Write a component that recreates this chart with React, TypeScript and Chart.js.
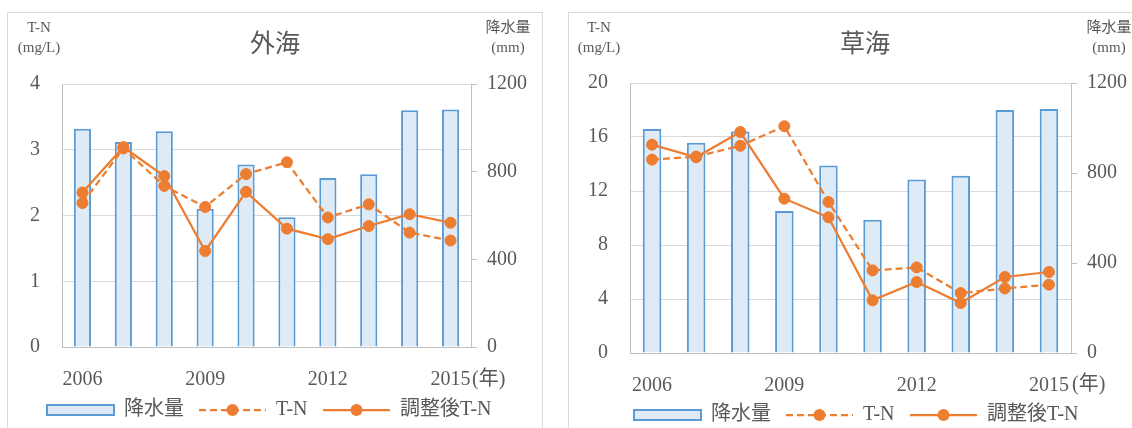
import React, { useEffect, useRef } from "react";
import { Chart, registerables } from "chart.js";

Chart.register(...registerables);

// Years on the category axis, and the ones that carry a visible label
const years = ["2006", "2007", "2008", "2009", "2010", "2011", "2012", "2013", "2014", "2015"];
const labelledYears = ["2006", "2009", "2012", "2015"];

// Annual rainfall (mm)
const rainfall = [996, 935, 984, 631, 833, 592, 771, 788, 1080, 1084];

// 外海: measured and rainfall-adjusted total nitrogen (mg/L)
const sotoumiTN = [2.19, 3.02, 2.45, 2.13, 2.63, 2.81, 1.97, 2.17, 1.74, 1.62];
const sotoumiAdjTN = [2.35, 3.04, 2.6, 1.46, 2.36, 1.8, 1.64, 1.84, 2.02, 1.89];

// 草海: measured and rainfall-adjusted total nitrogen (mg/L)
const kusaumiTN = [14.33, 14.55, 15.35, 16.8, 11.19, 6.12, 6.34, 4.44, 4.78, 5.06];
const kusaumiAdjTN = [15.43, 14.5, 16.37, 11.43, 10.05, 3.9, 5.26, 3.7, 5.63, 6.0];

// Legend labels
const rainLabel = "降水量";
const tnLabel = "T-N";
const adjLabel = "調整後T-N";

const FONT = '"Liberation Serif", "Times New Roman", "Noto Sans CJK JP", serif';
const TEXT = "#595959";
const GRID = "#d9d9d9";
const AXIS = "#bfbfbf";
const BAR_FILL = "#deebf7";
const BAR_LINE = "#5b9bd5";
const LINE = "#ed7d31";
const DASH = [7, 4];

type Panel = {
  title: string;
  left: number;
  width: number;
  tn: number[];
  adj: number[];
  tnMax: number;
  tnStep: number;
  yWidth: number;
  y1Width: number;
  top: number;
  xHeight: number;
  titleX: number;
  unitLeftX: number;
  unitRightX: number;
  yearX: number;
  yearY: number;
  legendX: number;
  legendY: number;
};

const CANVAS_H = 415;

const panels: Panel[] = [
  {
    title: "外海",
    left: 7,
    width: 534,
    tn: sotoumiTN,
    adj: sotoumiAdjTN,
    tnMax: 4,
    tnStep: 1,
    yWidth: 54,
    y1Width: 71,
    top: 71,
    xHeight: 81,
    titleX: 267,
    unitLeftX: 31,
    unitRightX: 500,
    yearX: 464,
    yearY: 367,
    legendX: 39,
    legendY: 397,
  },
  {
    title: "草海",
    left: 568,
    width: 592,
    tn: kusaumiTN,
    adj: kusaumiAdjTN,
    tnMax: 20,
    tnStep: 4,
    yWidth: 61,
    y1Width: 90,
    top: 70,
    xHeight: 75,
    titleX: 296,
    unitLeftX: 30,
    unitRightX: 540,
    yearX: 503,
    yearY: 372,
    legendX: 65,
    legendY: 402,
  },
];

// Legend layout: symbol width, start offsets of each entry, symbol-to-text gap
const LEGEND_SYMBOL = 67;
const LEGEND_OFFSETS = [0, 152, 276];
const LEGEND_GAP = 10;

// Draws the title, axis unit captions, the year suffix and the legend
function panelText(p: Panel) {
  return {
    id: "panelText",
    afterDraw(chart: any) {
      const ctx: CanvasRenderingContext2D = chart.ctx;
      ctx.save();
      ctx.fillStyle = TEXT;
      ctx.textAlign = "center";
      ctx.textBaseline = "middle";

      ctx.font = `25px ${FONT}`;
      ctx.fillText(p.title, p.titleX, 32);

      ctx.font = `15px ${FONT}`;
      ctx.fillText("T-N", p.unitLeftX, 15);
      ctx.fillText("(mg/L)", p.unitLeftX, 35);
      ctx.fillText("降水量", p.unitRightX, 15);
      ctx.fillText("(mm)", p.unitRightX, 35);

      ctx.font = `20px ${FONT}`;
      ctx.textAlign = "left";
      ctx.fillText("(年)", p.yearX, p.yearY);

      // legend
      const sw = LEGEND_SYMBOL;
      const y = p.legendY;
      const ds = chart.data.datasets;
      const entries = [ds[2], ds[0], ds[1]];
      entries.forEach((d: any, i: number) => {
        const x = p.legendX + LEGEND_OFFSETS[i];
        if (d.type === "bar") {
          ctx.fillStyle = BAR_FILL;
          ctx.fillRect(x, y - 5, sw, 10);
          ctx.strokeStyle = BAR_LINE;
          ctx.lineWidth = 2;
          ctx.strokeRect(x, y - 5, sw, 10);
        } else {
          ctx.strokeStyle = d.borderColor;
          ctx.lineWidth = d.borderWidth;
          ctx.setLineDash(d.borderDash || []);
          ctx.beginPath();
          ctx.moveTo(x, y);
          ctx.lineTo(x + sw, y);
          ctx.stroke();
          ctx.setLineDash([]);
          ctx.fillStyle = d.pointBackgroundColor;
          ctx.beginPath();
          ctx.arc(x + sw / 2, y, d.pointRadius + 0.5, 0, Math.PI * 2);
          ctx.fill();
        }
        ctx.fillStyle = TEXT;
        ctx.fillText(d.label, x + sw + LEGEND_GAP, y);
      });
      ctx.restore();
    },
  };
}

function PanelChart({ p }: { p: Panel }) {
  const ref = useRef<HTMLCanvasElement | null>(null);

  useEffect(() => {
    if (!ref.current) return;
    const tickFont = { family: FONT, size: 20 };
    const chart = new Chart(ref.current, {
      type: "bar",
      data: {
        labels: years,
        datasets: [
          {
            type: "line",
            label: tnLabel,
            data: p.tn,
            yAxisID: "y",
            borderColor: LINE,
            backgroundColor: LINE,
            borderWidth: 2.25,
            borderDash: DASH,
            pointRadius: 5.5,
            pointBorderWidth: 1,
            pointBackgroundColor: LINE,
            pointBorderColor: LINE,
            tension: 0,
            order: 1,
          },
          {
            type: "line",
            label: adjLabel,
            data: p.adj,
            yAxisID: "y",
            borderColor: LINE,
            backgroundColor: LINE,
            borderWidth: 2.25,
            pointRadius: 5.5,
            pointBorderWidth: 1,
            pointBackgroundColor: LINE,
            pointBorderColor: LINE,
            tension: 0,
            order: 0,
          },
          {
            type: "bar",
            label: rainLabel,
            data: rainfall,
            yAxisID: "y1",
            backgroundColor: BAR_FILL,
            borderColor: BAR_LINE,
            borderWidth: 2,
            barPercentage: 0.42,
            categoryPercentage: 1,
            order: 2,
          },
        ] as any,
      },
      options: {
        responsive: false,
        animation: false,
        devicePixelRatio: 1,
        layout: { padding: { top: p.top, left: 0, right: 0, bottom: 0 } },
        plugins: {
          legend: { display: false },
          title: { display: false },
          tooltip: { enabled: false },
        },
        scales: {
          x: {
            offset: true,
            grid: { display: false },
            border: { display: true, color: AXIS, width: 1 },
            ticks: {
              autoSkip: false,
              maxRotation: 0,
              minRotation: 0,
              padding: 13,
              color: TEXT,
              font: tickFont,
              callback: (_v: any, i: number) =>
                labelledYears.includes(years[i]) ? years[i] : "",
            },
            afterFit: (s: any) => {
              s.height = p.xHeight;
            },
          },
          y: {
            position: "left",
            min: 0,
            max: p.tnMax,
            grid: { color: GRID, lineWidth: 1, drawTicks: false },
            border: { display: true, color: AXIS, width: 1 },
            ticks: {
              stepSize: p.tnStep,
              padding: 22,
              color: TEXT,
              font: tickFont,
              callback: (v: any) => String(v),
            },
            afterFit: (s: any) => {
              s.width = p.yWidth;
            },
          },
          y1: {
            position: "right",
            min: 0,
            max: 1200,
            grid: { drawOnChartArea: false, drawTicks: true, tickLength: 6, color: AXIS },
            border: { display: true, color: AXIS, width: 1 },
            ticks: {
              stepSize: 400,
              padding: 10,
              color: TEXT,
              font: tickFont,
              callback: (v: any) => String(v),
            },
            afterFit: (s: any) => {
              s.width = p.y1Width;
            },
          },
        },
      } as any,
      plugins: [panelText(p)],
    });
    return () => chart.destroy();
  }, [p]);

  return (
    <div
      style={{
        position: "absolute",
        left: p.left,
        top: 12,
        width: p.width,
        height: CANVAS_H + 20,
        border: `1px solid ${GRID}`,
        background: "#fff",
      }}
    >
      <canvas
        ref={ref}
        width={p.width}
        height={CANVAS_H}
        style={{ display: "block", width: p.width, height: CANVAS_H }}
      />
    </div>
  );
}

export default function App() {
  return (
    <div
      style={{
        position: "fixed",
        left: 0,
        top: 0,
        width: 1132,
        height: 428,
        overflow: "hidden",
        background: "#fff",
      }}
    >
      {panels.map((p) => (
        <PanelChart key={p.title} p={p} />
      ))}
    </div>
  );
}
